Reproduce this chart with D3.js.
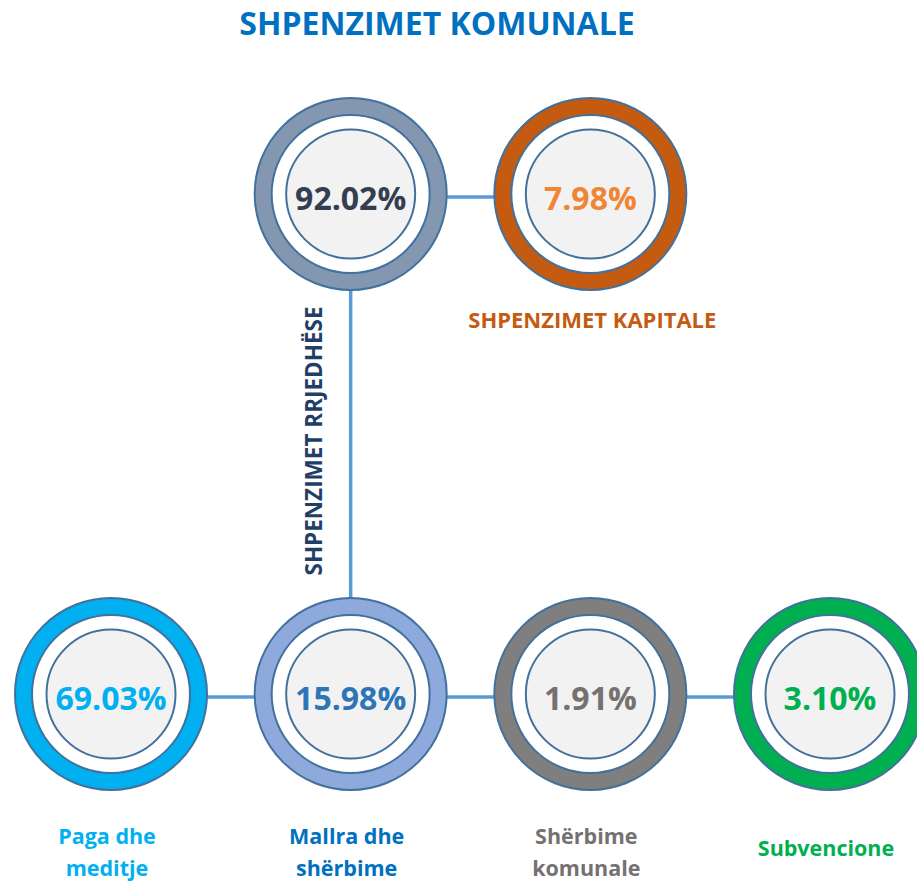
<!DOCTYPE html>
<html lang="en">
<head>
    <meta charset="UTF-8">
    <title>Shpenzimet komunale</title>
    <script src="https://cdnjs.cloudflare.com/ajax/libs/d3/7.8.5/d3.min.js"></script>
    <style>
        body { margin: 0; background: #fff; }
        text { font-family: "Open Sans", "DejaVu Sans", sans-serif; font-weight: bold; }
    </style>
</head>
<body>
    <div id="draw-here"></div>

    <script>
    /* global d3 */

    // chart data
    var title = "SHPENZIMET KOMUNALE";
    var nodeNames = ["SHPENZIMET RRJEDHËSE", "SHPENZIMET KAPITALE", "Paga dhe meditje", "Mallra dhe shërbime", "Shërbime komunale", "Subvencione"];
    var nodeValues = [92.02, 7.98, 69.03, 15.98, 1.91, 3.10];
    // grid slot of each node (column, row)
    var nodeCols = ["c1", "c2", "c0", "c1", "c2", "c3"];
    var nodeRows = ["top", "top", "bottom", "bottom", "bottom", "bottom"];
    // which nodes are joined by a line
    var linkFrom = [0, 0, 2, 3, 4];
    var linkTo = [1, 3, 3, 4, 5];

    // colours
    var ringColors = ["#8497B0", "#C55A11", "#00B0F0", "#8EA9DB", "#7F7F7F", "#00B050"];
    var valueColors = ["#333F50", "#F08536", "#00B0F0", "#2E75B6", "#767171", "#00B050"];
    var labelColors = ["#1F3F68", "#C55A11", "#00B0F0", "#0070C0", "#767171", "#00B050"];
    var borderColor = "#41719C";
    var lineColor = "#5B9BD5";

    var w = 917;
    var h = 884;
    var rOuter = 96;
    var rWhite = 79;
    var rInner = 64.5;

    var x = d3.scalePoint().domain(["c0", "c1", "c2", "c3"]).range([111, 830]);
    var y = d3.scalePoint().domain(["top", "bottom"]).range([194, 694]);

    var nodes = nodeNames.map(function(name, i) {
        return {
            name: name,
            value: nodeValues[i],
            cx: x(nodeCols[i]),
            cy: y(nodeRows[i]),
            ring: ringColors[i],
            valueColor: valueColors[i],
            labelColor: labelColors[i]
        };
    });

    var links = linkFrom.map(function(f, i) {
        return { source: nodes[f], target: nodes[linkTo[i]] };
    });

    var svg = d3.select("#draw-here")
        .append("svg")
        .attr("width", w)
        .attr("height", h);

    svg.append("text")
        .attr("x", 437)
        .attr("y", 35)
        .attr("text-anchor", "middle")
        .attr("font-size", "32px")
        .attr("fill", "#0070C0")
        .text(title);

    // connector lines (horizontal ones sit a little below centre)
    svg.selectAll("line.link")
        .data(links)
        .enter()
        .append("line")
        .attr("class", "link")
        .attr("x1", function(d) { return d.source.cx; })
        .attr("y1", function(d) { return d.source.cy === d.target.cy ? d.source.cy + 3 : d.source.cy; })
        .attr("x2", function(d) { return d.target.cx; })
        .attr("y2", function(d) { return d.source.cy === d.target.cy ? d.target.cy + 3 : d.target.cy; })
        .attr("stroke", lineColor)
        .attr("stroke-width", 3.5);

    var g = svg.selectAll("g.node")
        .data(nodes)
        .enter()
        .append("g")
        .attr("class", "node")
        .attr("transform", function(d) { return "translate(" + d.cx + "," + d.cy + ")"; });

    g.append("circle")
        .attr("r", rOuter)
        .attr("fill", function(d) { return d.ring; })
        .attr("stroke", borderColor)
        .attr("stroke-width", 2);

    g.append("circle")
        .attr("r", rWhite)
        .attr("fill", "#fff")
        .attr("stroke", borderColor)
        .attr("stroke-width", 2);

    g.append("circle")
        .attr("r", rInner)
        .attr("fill", "#F2F2F2")
        .attr("stroke", borderColor)
        .attr("stroke-width", 2);

    g.append("text")
        .attr("y", 16)
        .attr("text-anchor", "middle")
        .attr("font-size", "32px")
        .attr("fill", function(d) { return d.valueColor; })
        .text(function(d) { return d3.format(".2f")(d.value) + "%"; });

    // labels: first one runs up beside the vertical line, second under its circle,
    // the bottom row in up to two lines under the circles
    nodes.forEach(function(d, i) {
        if (i === 0) {
            svg.append("text")
                .attr("transform", "translate(" + (d.cx - 29) + "," + 441 + ") rotate(-90)")
                .attr("text-anchor", "middle")
                .attr("font-size", "22.5px")
                .attr("fill", d.labelColor)
                .text(d.name);
        } else if (i === 1) {
            svg.append("text")
                .attr("x", d.cx + 2)
                .attr("y", d.cy + 134)
                .attr("text-anchor", "middle")
                .attr("font-size", "22px")
                .attr("fill", d.labelColor)
                .text(d.name);
        } else {
            var words = d.name.split(" ");
            var lines = words.length > 2 ? [words.slice(0, 2).join(" "), words.slice(2).join(" ")]
                : words.length === 2 ? words : [d.name];
            var t = svg.append("text")
                .attr("text-anchor", "middle")
                .attr("font-size", "21.5px")
                .attr("fill", d.labelColor);
            var top = lines.length === 1 ? d.cy + 162 : d.cy + 150;
            lines.forEach(function(line, k) {
                t.append("tspan")
                    .attr("x", d.cx - 4)
                    .attr("y", top + k * 32)
                    .text(line);
            });
        }
    });
    </script>
</body>
</html>
